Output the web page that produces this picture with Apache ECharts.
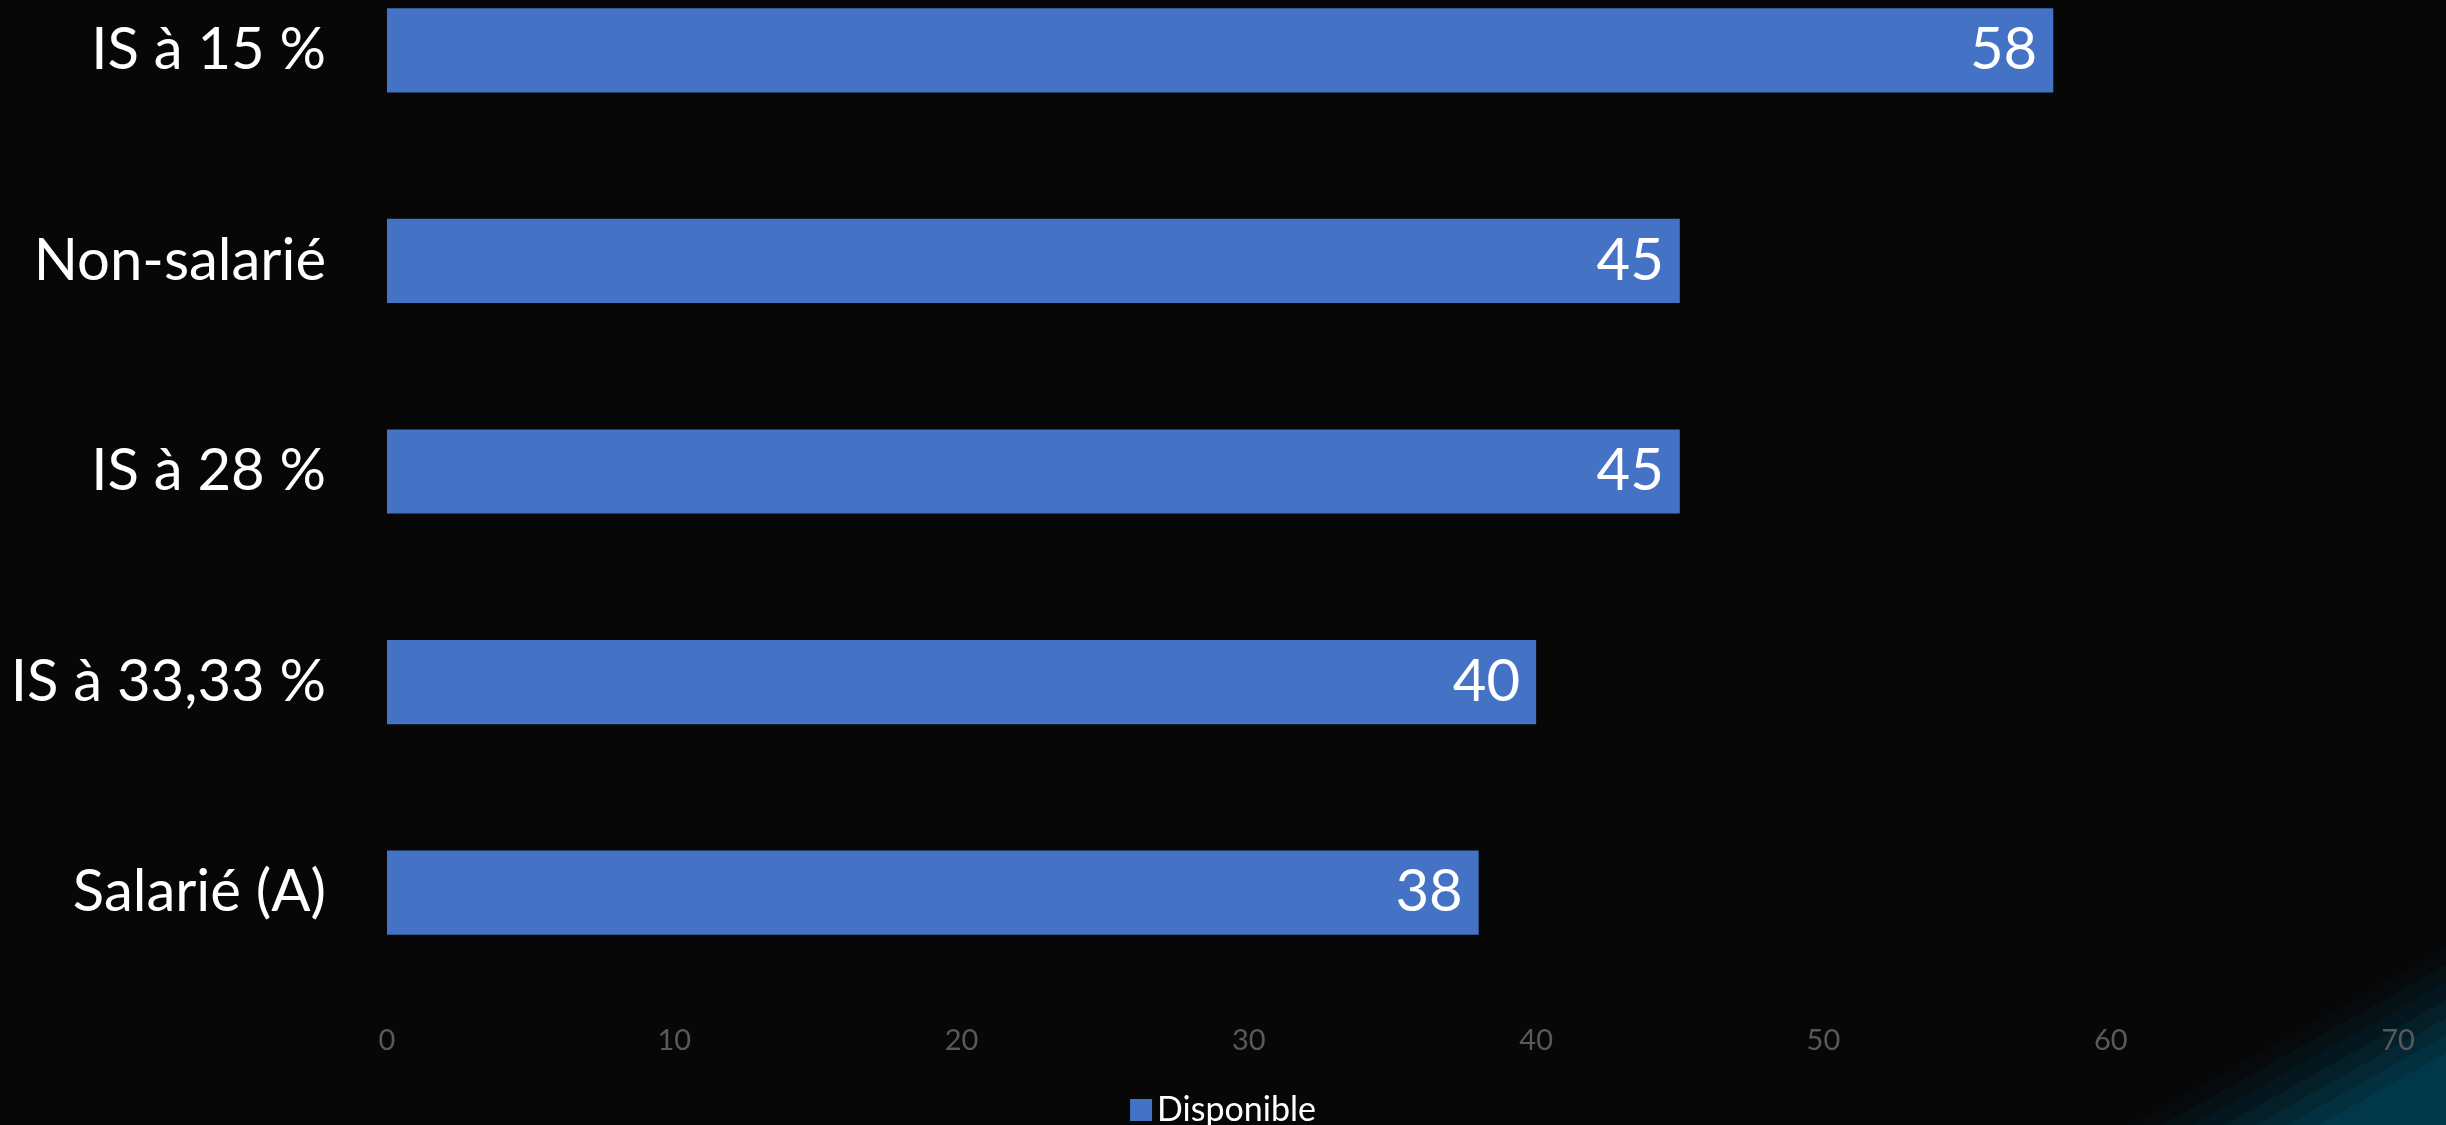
<!DOCTYPE html>
<html>
<head>
<meta charset="utf-8">
<script src="https://cdn.jsdelivr.net/npm/echarts@6/dist/echarts.min.js"></script>
<style>
html,body{margin:0;padding:0;background:#070707;}
#chart{width:2446px;height:1125px;}
</style>
</head>
<body>
<div id="chart"></div>
<script>
// Categories listed bottom to top
const categories = ['Salarié (A)', 'IS à 33,33 %', 'IS à 28 %', 'Non-salarié', 'IS à 15 %'];
const disponible = [38, 40, 45, 45, 58];
const seriesName = 'Disponible';
const axisMin = 0, axisMax = 70, axisInterval = 10;

const FONT = 'Lato, "Open Sans", sans-serif';

// decorative bottom-right bands
const bandColors = ['#060a0c', '#061115', '#05171e', '#041f28', '#032834', '#02303f', '#003749'];
const bandGraphics = bandColors.map((c, i) => {
  const t = i / (bandColors.length - 1);
  const bx = 2130 + t * (2318 - 2130);
  const ry = 947 + t * (1053 - 947);
  return {
    type: 'polygon', z: -10, silent: true,
    shape: { points: [[bx, 1125], [2446, ry], [2446, 1125]] },
    style: { fill: c }
  };
});

const chart = echarts.init(document.getElementById('chart'));
chart.setOption({
  backgroundColor: '#070707',
  animation: false,
  graphic: bandGraphics,
  grid: { left: 387, right: 48, top: -55, bottom: 127, containLabel: false, outerBoundsMode: 'none' },
  legend: {
    data: [seriesName],
    top: 1088, left: 'center',
    icon: 'rect', itemWidth: 22, itemHeight: 22, itemGap: 10,
    textStyle: { color: '#ffffff', fontSize: 34, fontFamily: FONT }
  },
  xAxis: {
    type: 'value', min: axisMin, max: axisMax, interval: axisInterval,
    axisLine: { show: false }, axisTick: { show: false }, splitLine: { show: false },
    axisLabel: { color: '#595959', fontSize: 29, fontFamily: FONT, margin: 28 }
  },
  yAxis: {
    type: 'category', data: categories,
    axisLine: { show: false }, axisTick: { show: false },
    axisLabel: { color: '#ffffff', fontSize: 58, fontFamily: FONT, margin: 61 }
  },
  series: [{
    name: seriesName, type: 'bar', data: disponible,
    barCategoryGap: '60%',
    itemStyle: { color: '#4472C4' },
    label: { show: true, position: 'insideRight', distance: 16, color: '#ffffff', fontSize: 58, fontFamily: FONT }
  }]
});
</script>
</body>
</html>
